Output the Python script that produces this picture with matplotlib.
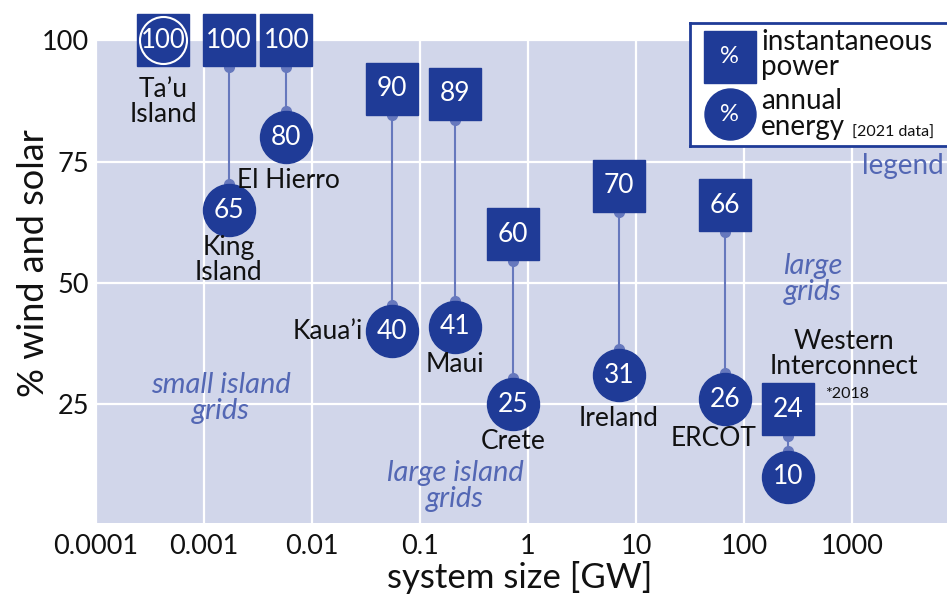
import matplotlib
matplotlib.use("Agg")
import matplotlib.pyplot as plt
from matplotlib.transforms import offset_copy

# ---------------- data ----------------
regions = ["Ta\u2019u\nIsland", "King\nIsland", "El Hierro", "Kaua\u2019i", "Maui",
           "Crete", "Ireland", "ERCOT", "Western\nInterconnect"]
system_size_gw = [4.2e-4, 1.7e-3, 5.8e-3, 0.055, 0.21, 0.73, 6.9, 67, 256]
instantaneous_power = [100, 100, 100, 90, 89, 60, 70, 66, 24]
annual_energy = [100, 65, 80, 40, 41, 25, 31, 26, 10]
x_ticks = [1e-4, 1e-3, 1e-2, 1e-1, 1, 10, 100, 1000]
x_tick_labels = ["0.0001", "0.001", "0.01", "0.1", "1", "10", "100", "1000"]
y_ticks = [25, 50, 75, 100]

# ---------------- styles ----------------
FONT = ["Lato", "DejaVu Sans"]
plt.rcParams["font.family"] = FONT
DARK = "#1f3b97"
LINE = "#6678bd"
BG = "#d1d6ea"
ANN = "#5367b4"
TXT = "#111111"
PX = 72 / 100.0  # points per pixel at dpi 100

# label placement: (anchor, dx_px, dy_px, ha)
label_style = [
    ("square", 0, -62, "center"),
    ("circle", 0, -50, "center"),
    ("circle", 2, -43, "center"),
    ("circle", -29, 0, "right"),
    ("circle", 0, -38, "center"),
    ("circle", 0, -37, "center"),
    ("circle", 0, -43, "center"),
    ("circle", -12, -39, "center"),
    ("square", 56, 55, "center"),
]

fig = plt.figure(figsize=(9.47, 5.98), dpi=100)
ax = fig.add_axes([96 / 947, 1 - 523 / 598, 1 - 96 / 947, (523 - 39) / 598])
ax.set_facecolor(BG)
ax.set_xscale("log")
ax.set_xlim(1e-4, 7550)
ax.set_ylim(0.5, 100.3)
for s in ax.spines.values():
    s.set_visible(False)
ax.set_xticks(x_ticks)
ax.set_xticklabels(x_tick_labels)
ax.minorticks_off()
ax.set_yticks(y_ticks)
ax.tick_params(length=0, labelsize=19.5, colors=TXT)
ax.tick_params(axis="y", pad=5)
ax.tick_params(axis="x", pad=8)
ax.grid(True, color="white", lw=1.6)
ax.set_axisbelow(True)
ax.set_xlabel("system size [GW]", fontsize=25, color=TXT)
ax.set_ylabel("% wind and solar", fontsize=26, color=TXT)
ax.xaxis.set_label_coords((520 - 96) / 851, (523 - 561) / 484)
ax.yaxis.set_label_coords((50 - 96) / 851, (523 - 263) / 484)

SQ = 53 * PX
CI = 52 * PX
NUM_FS = 19
for i, (x, p, e) in enumerate(zip(system_size_gw, instantaneous_power, annual_energy)):
    if p != e:
        ax.plot([x, x], [p, e], color=LINE, lw=1.5, zorder=3)
        t_dn = offset_copy(ax.transData, fig=fig, x=0, y=-SQ / 2, units="points")
        t_up = offset_copy(ax.transData, fig=fig, x=0, y=CI / 2, units="points")
        ax.plot([x], [p], "o", ms=7, color=LINE, transform=t_dn, zorder=3, clip_on=False)
        ax.plot([x], [e], "o", ms=7, color=LINE, transform=t_up, zorder=3, clip_on=False)
        ax.plot([x], [p], "s", ms=SQ, color=DARK, mec=DARK, zorder=4, clip_on=False)
        ax.plot([x], [e], "o", ms=CI, color=DARK, mec=DARK, zorder=4, clip_on=False)
        ax.text(x, p, str(p), color="white", ha="center", va="center", fontsize=NUM_FS, zorder=5)
        ax.text(x, e, str(e), color="white", ha="center", va="center", fontsize=NUM_FS, zorder=5)
    else:
        ax.plot([x], [p], "s", ms=SQ, color=DARK, mec=DARK, zorder=4, clip_on=False)
        ax.plot([x], [e], "o", ms=47 * PX, color=DARK, mec="white", mew=1.5, zorder=5, clip_on=False)
        ax.text(x, p, str(p), color="white", ha="center", va="center", fontsize=NUM_FS - 0.5, zorder=6)
    anchor, dx, dy, ha = label_style[i]
    yv = p if anchor == "square" else e
    tr = offset_copy(ax.transData, fig=fig, x=dx * PX, y=dy * PX, units="points")
    ax.text(x, yv, regions[i], transform=tr, ha=ha, va="center", fontsize=19,
            color=TXT, linespacing=1.0, zorder=6)

# footnote for Western Interconnect
tr = offset_copy(ax.transData, fig=fig, x=59 * PX, y=15 * PX, units="points")
ax.text(system_size_gw[-1], instantaneous_power[-1], "*2018", transform=tr,
        ha="center", va="center", fontsize=11.5, color=TXT)

# italic region annotations (axes-fraction positions)
def afx(px):
    return (px - 96) / (947 - 96)

def afy(py):
    return (523 - py) / (523 - 39)

ann_kw = dict(transform=ax.transAxes, ha="center", va="center", fontsize=21,
              style="italic", color=ANN, linespacing=1.0)
ax.text(afx(221), afy(398), "small island\ngrids", **ann_kw)
ax.text(afx(455), afy(486), "large island\ngrids", **ann_kw)
ax.text(afx(813), afy(279), "large\ngrids", **ann_kw)
ax.text(afx(903), afy(166), "legend", transform=ax.transAxes, ha="center",
        va="center", fontsize=20, color=ANN)

# ---------------- legend box ----------------
L0, T0 = 690, 23
lw_px, lh_px = 270, 123
lax = fig.add_axes([L0 / 947, 1 - (T0 + lh_px) / 598, lw_px / 947, lh_px / 598])
lax.set_xlim(0, lw_px)
lax.set_ylim(lh_px, 0)
lax.set_xticks([])
lax.set_yticks([])
lax.set_facecolor("white")
for s in lax.spines.values():
    s.set_color(DARK)
    s.set_linewidth(2)
lax.plot([729.5 - L0], [56.5 - T0], "s", ms=SQ, color=DARK, clip_on=False)
lax.plot([729.5 - L0], [114 - T0], "o", ms=51 * PX, color=DARK, clip_on=False)
lax.text(729.5 - L0, 56.5 - T0, "%", color="white", ha="center", va="center", fontsize=17)
lax.text(729.5 - L0, 114 - T0, "%", color="white", ha="center", va="center", fontsize=17)
for txt, yy in [("instantaneous", 42), ("power", 67), ("annual", 101), ("energy", 127)]:
    lax.text(761 - L0, yy - T0, txt, ha="left", va="center", fontsize=20, color=TXT)
lax.text(852 - L0, 133 - T0, "[2021 data]", ha="left", va="center", fontsize=11.5, color=TXT)

fig.savefig("out.png", dpi=100)
